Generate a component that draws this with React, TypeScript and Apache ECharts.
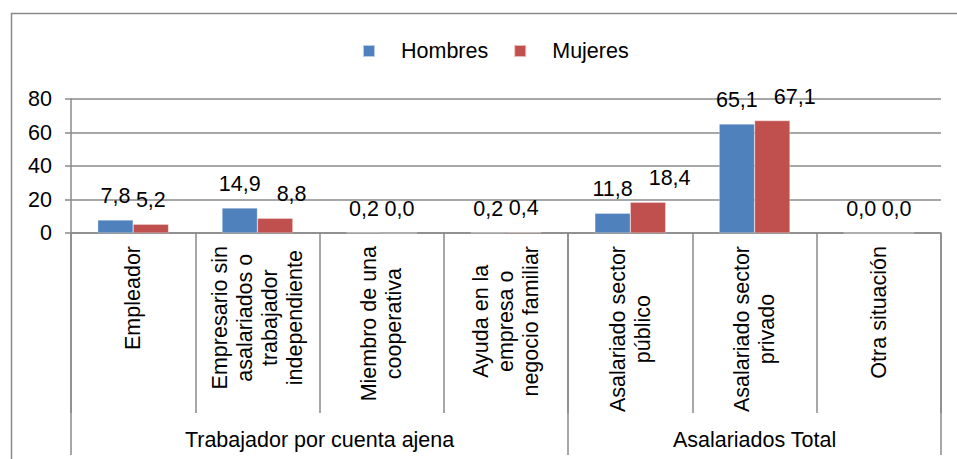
import React, { useEffect, useRef } from 'react';
import * as echarts from 'echarts';

const categories = [
  'Empleador',
  'Empresario sin\nasalariados o\ntrabajador\nindependiente',
  'Miembro de una\ncooperativa',
  'Ayuda en la\nempresa o\nnegocio familiar',
  'Asalariado sector\npúblico',
  'Asalariado sector\nprivado',
  'Otra situación',
];
const hombres = [7.8, 14.9, 0.2, 0.2, 11.8, 65.1, 0.0];
const mujeres = [5.2, 8.8, 0.0, 0.4, 18.4, 67.1, 0.0];
const groups = ['Trabajador por cuenta ajena', 'Asalariados Total'];
const groupSizes = [4, 3];
const seriesNames = ['Hombres', 'Mujeres'];

const FONT = "'Liberation Sans', Arial, Helvetica, sans-serif";
const GRAY = '#8a8a8a';
const FS = 21.5;
const CAT_GAP = 0.43;

const fmtVal = (v: number) => Number(v).toFixed(1).replace('.', ',');

let measureCtx: CanvasRenderingContext2D | null = null;
function measure(text: string): number {
  if (!measureCtx) measureCtx = document.createElement('canvas').getContext('2d');
  if (!measureCtx) return text.length * FS * 0.55;
  measureCtx.font = `${FS}px ${FONT}`;
  return measureCtx.measureText(text).width;
}

export default function App() {
  const ref = useRef<HTMLDivElement>(null);
  useEffect(() => {
    const chart = echarts.init(ref.current as HTMLDivElement, null, { renderer: 'svg' });
    const groupStarts = groupSizes.map((_, i) => groupSizes.slice(0, i).reduce((a, b) => a + b, 0));
    const frame = {
      type: 'rect',
      shape: { x: 11.5, y: 13.5, width: 960, height: 460 },
      style: { fill: 'none', stroke: GRAY, lineWidth: 1.5 },
      silent: true,
    };
    const labelStyle = {
      show: true,
      position: 'top',
      distance: 13,
      fontSize: FS,
      fontFamily: FONT,
      color: '#000',
      formatter: (p: any) => fmtVal(p.value),
    };
    chart.setOption({
      animation: false,
      legend: {
        data: seriesNames,
        left: 362,
        top: 40,
        padding: 0,
        icon: 'rect',
        itemWidth: 12,
        itemHeight: 12,
        itemGap: 25,
        textStyle: { fontSize: FS, fontFamily: FONT, color: '#000', padding: [0, 0, 0, 21] },
      },
      grid: { left: 71, right: 16, top: 99, bottom: 226, containLabel: false },
      xAxis: [
        {
          type: 'category',
          position: 'bottom',
          data: categories,
          axisLine: { show: true, lineStyle: { color: GRAY, width: 1.5 } },
          axisTick: { show: true, interval: 0, length: 180, lineStyle: { color: GRAY, width: 1.5 } },
          axisLabel: {
            interval: 0,
            rotate: 90,
            margin: 13,
            formatter: (v: string) => v.split('\n').map((l) => `{c|${l}}`).join('\n'),
            rich: { c: { align: 'center', fontSize: FS, lineHeight: 25, fontFamily: FONT, color: '#000' } },
          },
        },
        {
          type: 'category',
          position: 'bottom',
          data: categories,
          axisLine: { show: false },
          axisTick: {
            show: true,
            interval: (i: number) => groupStarts.indexOf(i) >= 0,
            length: 222,
            lineStyle: { color: GRAY, width: 1.5 },
          },
          axisLabel: { show: false },
        },
      ],
      yAxis: {
        type: 'value',
        min: 0,
        max: 80,
        interval: 20,
        axisLine: { show: true, lineStyle: { color: GRAY, width: 1.5 } },
        axisTick: { show: true, length: 6, lineStyle: { color: GRAY, width: 1.5 } },
        splitLine: { show: true, lineStyle: { color: GRAY, width: 1.5 } },
        axisLabel: { fontSize: FS, fontFamily: FONT, color: '#000', margin: 19 },
      },
      series: [
        {
          name: seriesNames[0],
          type: 'bar',
          data: hombres,
          barGap: '0%',
          barCategoryGap: `${CAT_GAP * 100}%`,
          itemStyle: { color: '#4f81bd', borderColor: 'rgba(255,255,255,0.6)', borderWidth: 0.5 },
          label: labelStyle,
        },
        {
          name: seriesNames[1],
          type: 'bar',
          data: mujeres,
          barGap: '0%',
          barCategoryGap: `${CAT_GAP * 100}%`,
          itemStyle: { color: '#c0504d', borderColor: 'rgba(255,255,255,0.6)', borderWidth: 0.5 },
          label: labelStyle,
        },
      ],
      graphic: [frame],
    });

    // Keep paired value labels apart: shift the second label right when the two collide.
    const c0 = chart.convertToPixel({ xAxisIndex: 0 }, categories[0]) as number;
    const c1 = chart.convertToPixel({ xAxisIndex: 0 }, categories[1]) as number;
    const band = c1 - c0;
    const barW = (band * (1 - CAT_GAP)) / 2;
    const mujeresData = mujeres.map((v, i) => {
      const hw = measure(fmtVal(hombres[i]));
      const mw = measure(fmtVal(v));
      const gap = (barW / 2 - mw / 2) - (-barW / 2 + hw / 2);
      const dx = gap < 5 ? 16 - gap : 0;
      return { value: v, label: { offset: [dx, 0] } };
    });

    const groupLabels = groups.map((g, i) => {
      const a = chart.convertToPixel({ xAxisIndex: 0 }, categories[groupStarts[i]]) as number;
      const b = chart.convertToPixel({ xAxisIndex: 0 }, categories[groupStarts[i] + groupSizes[i] - 1]) as number;
      return {
        type: 'text',
        x: (a + b) / 2,
        y: 440,
        silent: true,
        style: { text: g, align: 'center', verticalAlign: 'middle', fontSize: FS, fontFamily: FONT, fill: '#000' },
      };
    });
    chart.setOption({
      series: [{}, { data: mujeresData }],
      graphic: [frame, ...groupLabels],
    });
    return () => chart.dispose();
  }, []);
  return <div ref={ref} style={{ position: 'absolute', left: 0, top: 0, width: 957, height: 459 }} />;
}
